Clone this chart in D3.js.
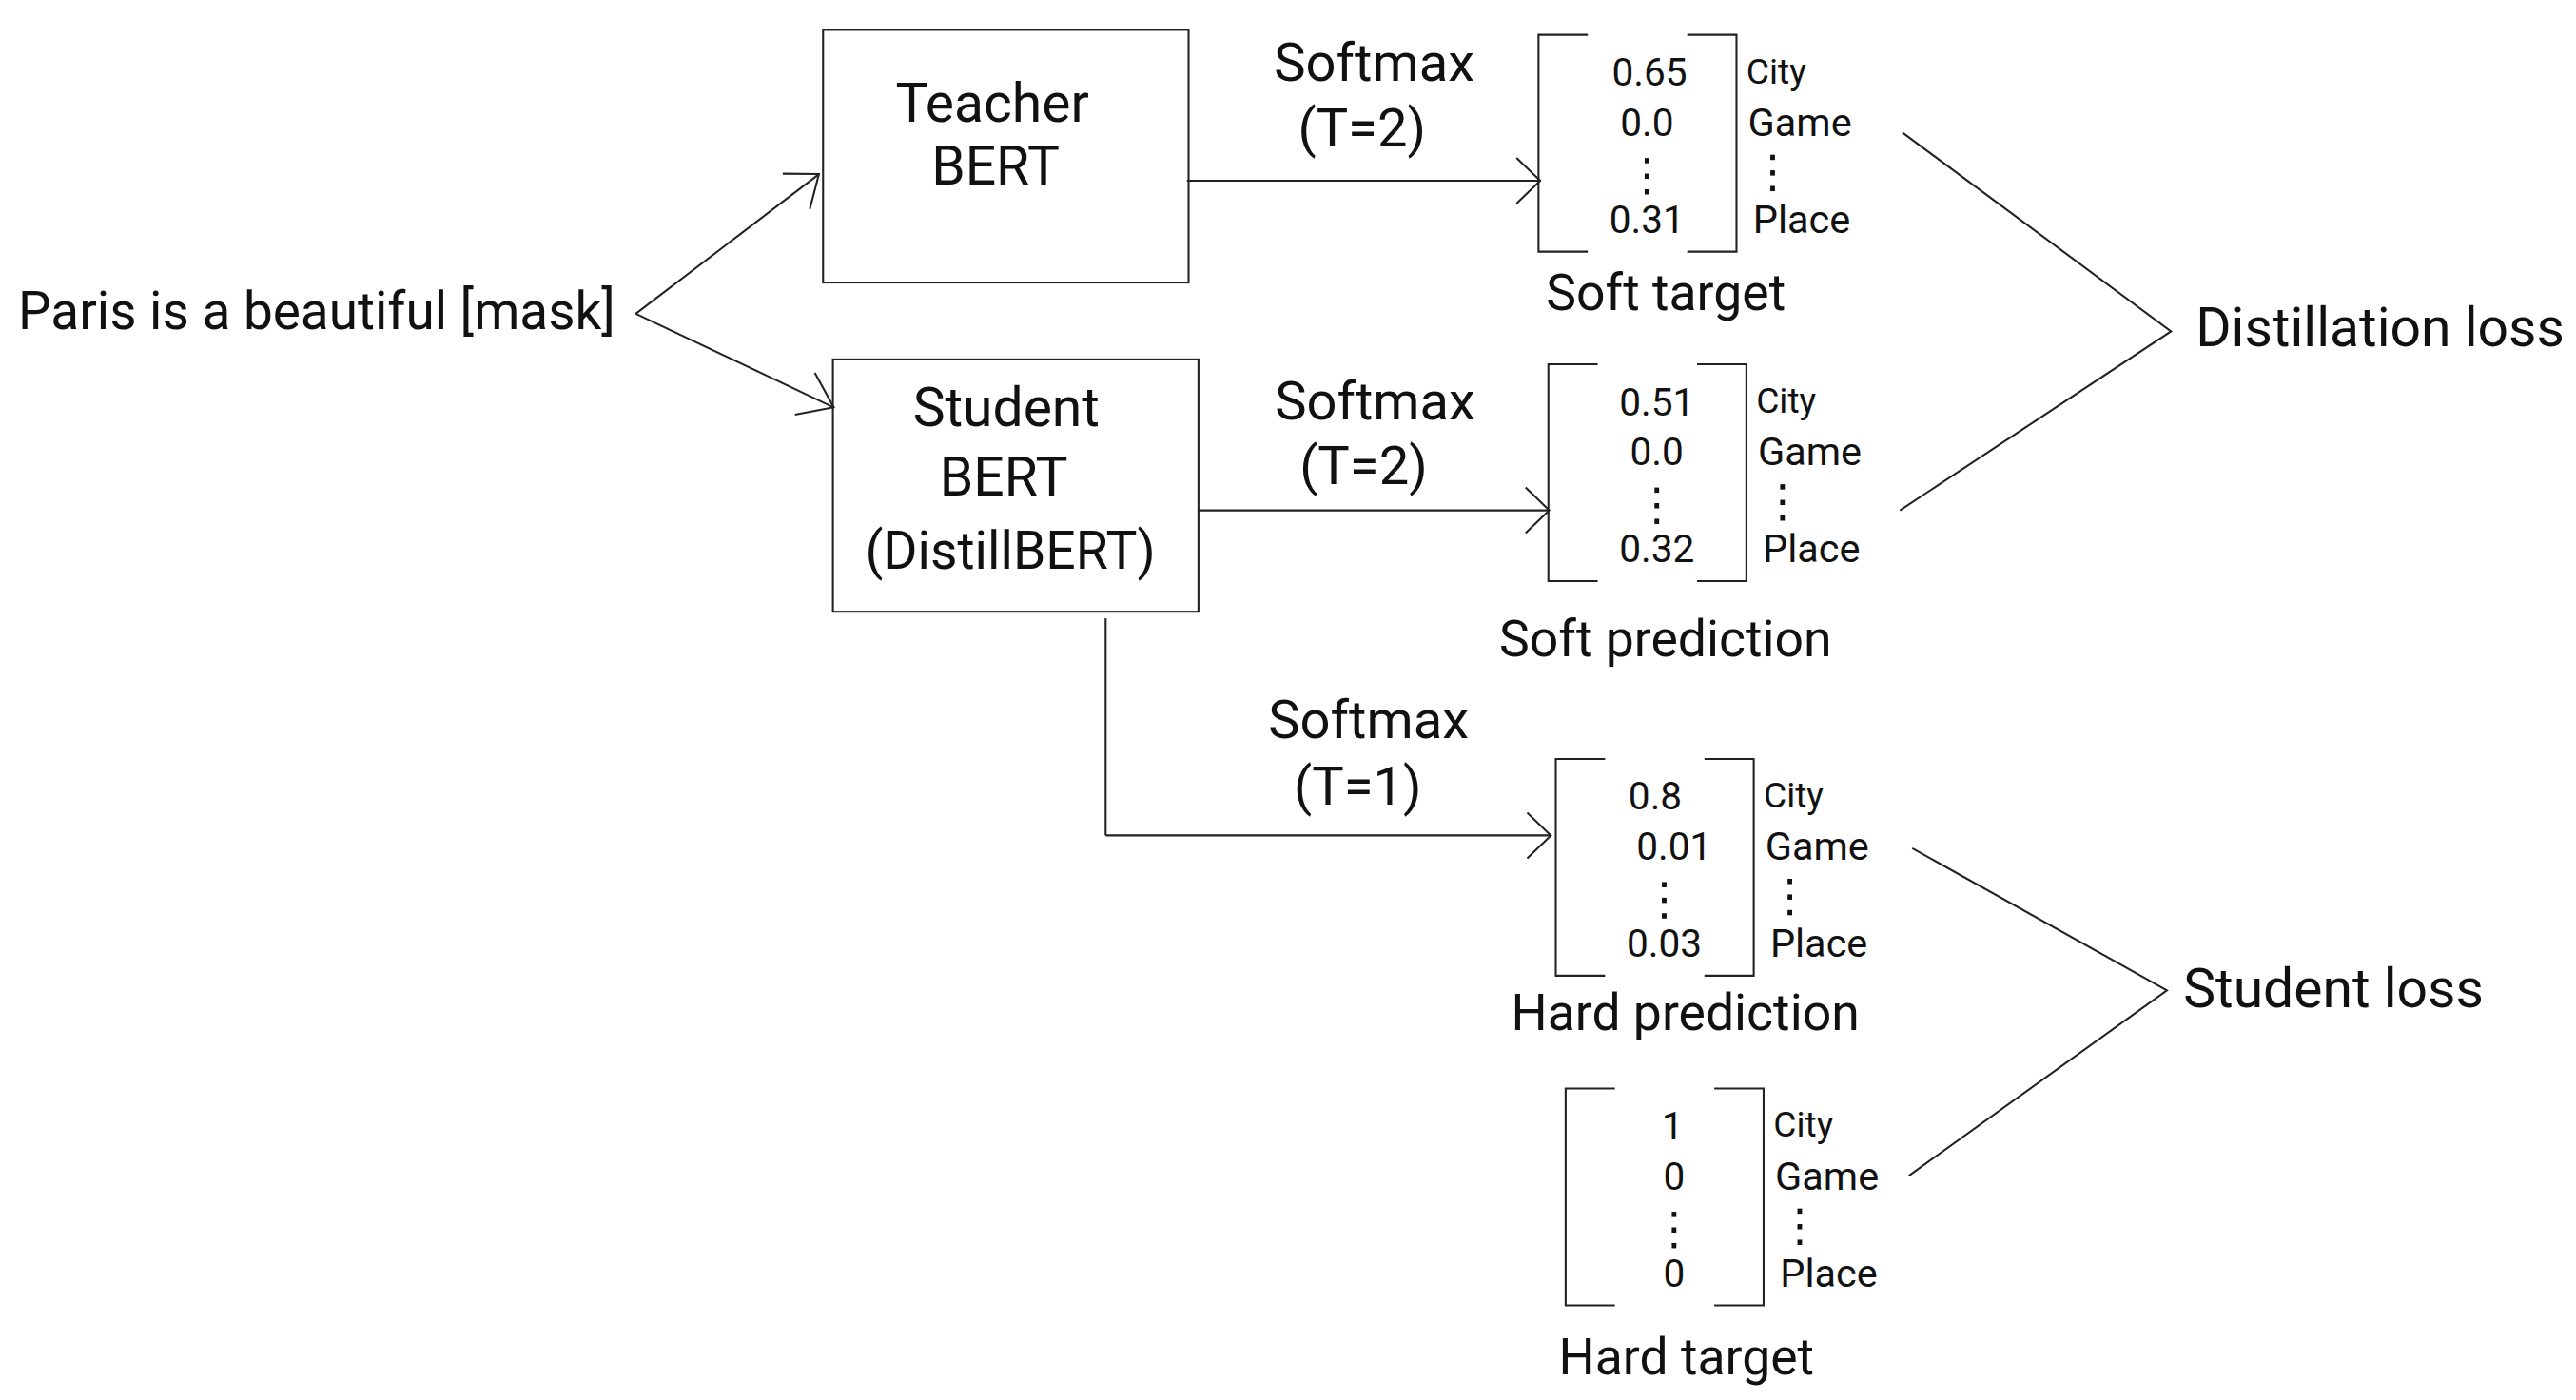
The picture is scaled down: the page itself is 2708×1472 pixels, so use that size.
<!DOCTYPE html>
<html>
<head>
<meta charset="utf-8">
<script src="https://cdn.jsdelivr.net/npm/d3@7"></script>
<style>
  html, body { margin: 0; padding: 0; background: #fff; }
  svg { display: block; }
  text { font-family: Roboto, "Noto Sans", sans-serif; fill: #111; }
</style>
</head>
<body>
<div id="chart"></div>
<script>
// ---- content of the diagram ----
const inputSentence = 'Paris is a beautiful [mask]';
const teacherLines = ['Teacher', 'BERT'];
const studentLines = ['Student', 'BERT', '(DistillBERT)'];
const softmaxLabels = [['Softmax', '(T=2)'], ['Softmax', '(T=2)'], ['Softmax', '(T=1)']];
const classLabels = ['City', 'Game', 'Place'];
const softTarget = ['0.65', '0.0', '0.31'];
const softPrediction = ['0.51', '0.0', '0.32'];
const hardPrediction = ['0.8', '0.01', '0.03'];
const hardTarget = ['1', '0', '0'];
const vectorNames = ['Soft target', 'Soft prediction', 'Hard prediction', 'Hard target'];
const lossNames = ['Distillation loss', 'Student loss'];

// ---- layout (reference units, 1568 x 852 page) ----
const W = 2708, H = 1472;
const REF_W = 1568, REF_H = 852.3;
const x = d3.scaleLinear().domain([0, REF_W]).range([0, W]);
const y = d3.scaleLinear().domain([0, REF_H]).range([0, H]);
const k = W / REF_W;

const VAL = 23.5, LAB = 24, CITY = 21.5;
const STROKE = 1.2;

const svg = d3.select('#chart').append('svg')
  .attr('width', W)
  .attr('height', H);

const g = svg.append('g');

function text(str, px, py, size, anchor) {
  return g.append('text')
    .attr('x', x(px))
    .attr('y', y(py))
    .attr('font-size', size * k)
    .attr('text-anchor', anchor || 'middle')
    .text(str);
}

const line = d3.line().x(d => x(d[0])).y(d => y(d[1]));

function path(points) {
  g.append('path')
    .attr('d', line(points))
    .attr('fill', 'none')
    .attr('stroke', '#222')
    .attr('stroke-width', STROKE * k);
}

// open arrow from p0 to tip
function arrow(p0, tip, len, half) {
  path([p0, tip]);
  const a = Math.atan2(tip[1] - p0[1], tip[0] - p0[0]) + Math.PI;
  const h = (half || 38) * Math.PI / 180;
  const L = len || 21;
  path([
    [tip[0] + L * Math.cos(a - h), tip[1] + L * Math.sin(a - h)],
    tip,
    [tip[0] + L * Math.cos(a + h), tip[1] + L * Math.sin(a + h)]
  ]);
}

// ---- input sentence and split arrows ----
text(inputSentence, 11, 200.5, 31.8, 'start');
arrow([387, 191], [498.5, 106], 22, 38);
arrow([387, 191], [507.5, 248], 24, 36);

// ---- model boxes ----
function box(x0, y0, x1, y1) {
  g.append('rect')
    .attr('x', x(x0)).attr('y', y(y0))
    .attr('width', x(x1) - x(x0)).attr('height', y(y1) - y(y0))
    .attr('fill', 'none')
    .attr('stroke', '#222')
    .attr('stroke-width', STROKE * k);
}
box(501, 18.2, 723.5, 172);
box(507, 218.8, 729.5, 372.4);

const teacherCenters = [[604, 73.9], [606, 112.3]];
teacherLines.forEach((s, i) => text(s, teacherCenters[i][0], teacherCenters[i][1], 33, 'middle'));
const studentCenters = [[612.5, 259.6], [611, 301.7], [615, 346.5]];
studentLines.forEach((s, i) => text(s, studentCenters[i][0], studentCenters[i][1], i === 2 ? 32 : 33, 'middle'));

// ---- softmax arrows ----
arrow([722.5, 110], [937.5, 110], 20, 44);
arrow([729.5, 310.7], [943, 310.7], 20, 44);
path([[673, 376.4], [673, 508.6]]);
arrow([673, 508.6], [944, 508.6], 20, 44);

const softmaxPos = [
  [[836.5, 49], [829, 89]],
  [[837, 255.5], [830, 295]],
  [[833, 449.3], [826.5, 490]]
];
softmaxLabels.forEach((pair, i) => {
  pair.forEach((s, j) => text(s, softmaxPos[i][j][0], softmaxPos[i][j][1], 32.5, 'middle'));
});

// ---- probability vectors ----
const vectors = [
  { values: softTarget, left: 936.5, top: 21.2, cap: [1014, 189], shift: [1.5, 0, 0] },
  { values: softPrediction, left: 942.5, top: 221.8, cap: [1013.8, 399.5], shift: [0, 0, 0] },
  { values: hardPrediction, left: 947, top: 462, cap: [1025.8, 626.8], shift: [-5.5, 6, 0] },
  { values: hardTarget, left: 953, top: 662.7, cap: [1026.5, 836.6], shift: [-1, 0, 0] }
];
const BW = 120.5, BH = 132, SERIF = 30;
const rowY = [31, 61.5, 120.5];
const labelDx = [6, 7, 10];

function vdots(cx, y0) {
  [0, 9.5, 19].forEach(dy => {
    g.append('rect')
      .attr('x', x(cx - 1.4)).attr('y', y(y0 + dy))
      .attr('width', 2.8 * k).attr('height', 3.2 * k)
      .attr('fill', '#111');
  });
}

vectors.forEach((v, i) => {
  const L = v.left, R = v.left + BW, T = v.top, B = v.top + BH;
  path([[L + SERIF, T], [L, T], [L, B], [L + SERIF, B]]);
  path([[R - SERIF, T], [R, T], [R, B], [R - SERIF, B]]);
  v.values.forEach((val, j) => {
    text(val, L + 66 + v.shift[j], T + rowY[j], VAL, 'middle');
  });
  vdots(L + 66, T + 75);
  classLabels.forEach((lab, j) => {
    const dy = j === 0 ? -1.5 : 0;
    text(lab, R + labelDx[j], T + rowY[j] + dy, j === 0 ? CITY : LAB, 'start');
  });
  vdots(R + 22, T + 73);
  text(vectorNames[i], v.cap[0], v.cap[1], 31, 'middle');
});

// ---- losses ----
path([[1158, 80.7], [1321.5, 201.7], [1156.5, 310.7]]);
text(lossNames[0], 1336.5, 210.6, 33, 'start');
path([[1164, 516.4], [1319, 602.9], [1162, 715.7]]);
text(lossNames[1], 1329, 612.9, 33, 'start');
</script>
</body>
</html>
